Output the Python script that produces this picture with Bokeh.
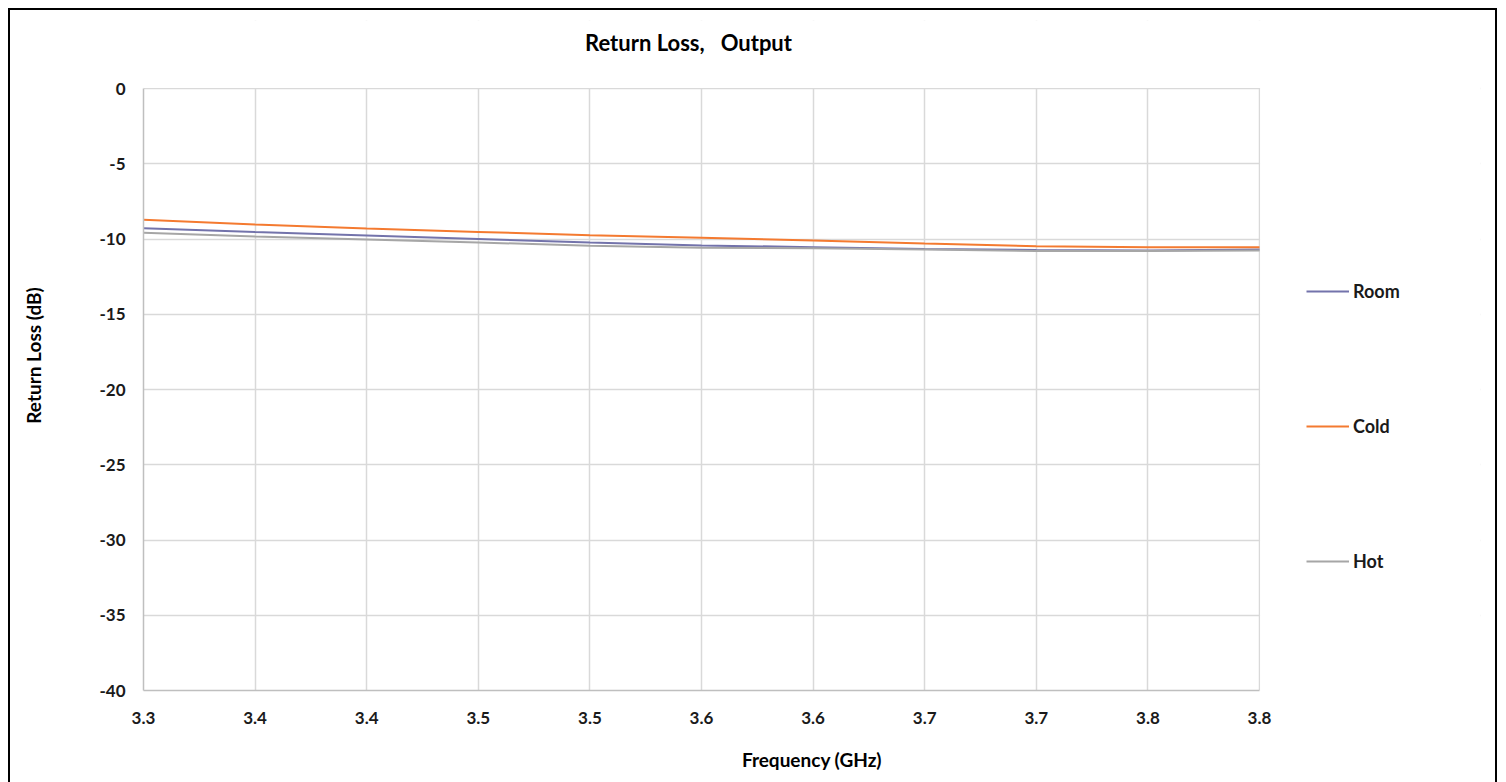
from bokeh.plotting import figure
from bokeh.models import Range1d, FixedTicker, Legend, LegendItem, BoxAnnotation, Label
from bokeh.embed import file_html
from bokeh.resources import INLINE

freq = [3.30, 3.35, 3.40, 3.45, 3.50, 3.55, 3.60, 3.65, 3.70, 3.75, 3.80]
room = [-9.28, -9.53, -9.77, -10.00, -10.23, -10.43, -10.54, -10.66, -10.73, -10.76, -10.70]
cold = [-8.72, -9.04, -9.30, -9.53, -9.75, -9.92, -10.10, -10.30, -10.48, -10.55, -10.55]
hot = [-9.59, -9.83, -10.03, -10.23, -10.45, -10.58, -10.61, -10.70, -10.80, -10.80, -10.76]

x_ticks = [3.30, 3.35, 3.40, 3.45, 3.50, 3.55, 3.60, 3.65, 3.70, 3.75, 3.80]
x_tick_labels = ["3.3", "3.4", "3.4", "3.5", "3.5", "3.6", "3.6", "3.7", "3.7", "3.8", "3.8"]
y_ticks = [0, -5, -10, -15, -20, -25, -30, -35, -40]
y_tick_labels = ["0", "-5", "-10", "-15", "-20", "-25", "-30", "-35", "-40"]
title_text = "Return Loss,\u00a0\u00a0 Output"

FONT = "Lato"
X_MIN, X_MAX = 3.3, 3.8
Y_MIN, Y_MAX = -40, 0

# plot area (pixels in the page): x 143..1259, y 88..690
PX_X = 1116 / (X_MAX - X_MIN)
PX_Y = 602 / (Y_MAX - Y_MIN)
# the frame is widened right (legend) and up (title); data area stays 3.3..3.8 x -40..0
X_FRAME_MAX = X_MAX + (1480 - 1259) / PX_X
Y_FRAME_MAX = Y_MAX + (88 - 20) / PX_Y

p = figure(width=1485, height=772, output_backend="svg", toolbar_location=None,
           x_range=Range1d(X_MIN, X_FRAME_MAX), y_range=Range1d(Y_MIN, Y_FRAME_MAX),
           min_border_left=133, min_border_right=15, min_border_top=10, min_border_bottom=92)
p.margin = (10, 0, 0, 10)
p.styles = {"outline": "2px solid #000"}

p.outline_line_color = None
p.background_fill_color = "white"
p.border_fill_color = "white"

p.xaxis.ticker = FixedTicker(ticks=x_ticks)
p.xaxis.major_label_overrides = {t: l for t, l in zip(x_ticks, x_tick_labels)}
p.xaxis.bounds = (X_MIN, X_MAX)
p.yaxis.ticker = FixedTicker(ticks=y_ticks)
p.yaxis.major_label_overrides = {t: l for t, l in zip(y_ticks, y_tick_labels)}
p.yaxis.bounds = (Y_MIN, Y_MAX)

for ax in (p.xaxis, p.yaxis):
    ax.major_tick_line_color = None
    ax.minor_tick_line_color = None
    ax.major_label_text_font = FONT
    ax.major_label_text_font_style = "bold"
    ax.major_label_text_font_size = "17px"
    ax.major_label_text_color = "#1a1a1a"
    ax.axis_label_text_font = FONT
    ax.axis_label_text_font_style = "bold"
    ax.axis_label_text_font_size = "19px"
    ax.axis_label_text_color = "#000000"
    ax.axis_line_color = "#BFBFBF"
    ax.axis_line_width = 1.5

p.xaxis.axis_label = "Frequency (GHz)"
p.xaxis.axis_label_standoff = 21
p.xaxis.major_label_standoff = 15
p.yaxis.axis_label = "Return Loss (dB)"
p.yaxis.major_label_standoff = 12
p.yaxis.axis_label_standoff = 51

p.xgrid.grid_line_color = "#D9D9D9"
p.ygrid.grid_line_color = "#D9D9D9"
p.xgrid.grid_line_width = 1.5
p.ygrid.grid_line_width = 1.5

# blank out the grid outside the plot area (legend region on the right, title region on top)
p.add_layout(BoxAnnotation(left=X_MAX + 0.6 / PX_X, fill_color="white", fill_alpha=1,
                           line_color=None, level="underlay"))
p.add_layout(BoxAnnotation(bottom=Y_MAX + 0.6 / PX_Y, fill_color="white", fill_alpha=1,
                           line_color=None, level="underlay"))

p.add_layout(Label(x=X_MIN + (688 - 143) / PX_X, y=Y_MAX + (88 - 42) / PX_Y, text=title_text,
                   text_align="center", text_baseline="middle",
                   text_font=FONT, text_font_size="22px", text_font_style="bold",
                   text_color="#000000"))

r_room = p.line(freq, room, line_color="#7373AB", line_width=2)
r_cold = p.line(freq, cold, line_color="#F47A30", line_width=2)
r_hot = p.line(freq, hot, line_color="#A6A6A6", line_width=2)

legend = Legend(items=[LegendItem(label="Room", renderers=[r_room]),
                       LegendItem(label="Cold", renderers=[r_cold]),
                       LegendItem(label="Hot", renderers=[r_hot])],
                location=(1163, 118), orientation="vertical",
                glyph_width=43, glyph_height=20, label_standoff=4, spacing=113,
                padding=0, margin=0, border_line_alpha=0, background_fill_alpha=0,
                label_text_font=FONT, label_text_font_style="bold", label_text_font_size="18px",
                label_text_color="#1a1a1a")
p.add_layout(legend, "center")

open("out.html", "w").write(file_html(p, INLINE))
